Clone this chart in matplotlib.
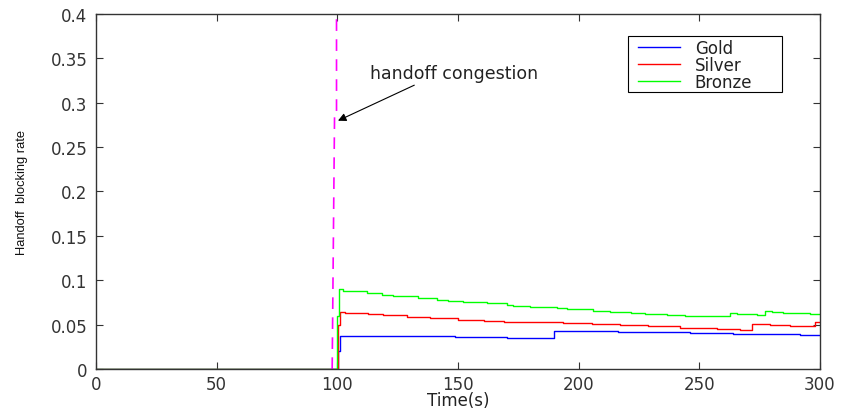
import matplotlib
matplotlib.use('Agg')
import matplotlib.pyplot as plt
from matplotlib.patches import Rectangle

plt.rcParams['font.family'] = ['DejaVu Sans']

# ---------------- data ----------------
gold_t = [0, 100.4, 101.2, 118.4, 148.8, 170.2, 189.6, 216.4, 246.1, 264.1, 291.7, 300]
gold_v = [0, 0.020, 0.0376, 0.0368, 0.0357, 0.0346, 0.0432, 0.0421, 0.0406, 0.0394,
          0.0383, 0.0383]

silver_t = [0, 100.2, 101.0, 103.2, 112.9, 119.1, 128.8, 138.5, 150.2, 160.6, 168.9,
            173.7, 193.7, 205.4, 217.1, 228.9, 242, 257.2, 266.9, 271.7, 279.3, 287.6,
            298, 300]
silver_v = [0, 0.050, 0.0639, 0.0631, 0.0620, 0.0608, 0.0582, 0.0571, 0.0556, 0.0545,
            0.0533, 0.0526, 0.0517, 0.0507, 0.0496, 0.0481, 0.0466, 0.0454, 0.0439,
            0.0507, 0.0496, 0.0481, 0.0526, 0.0526]

bronze_t = [0, 100.0, 100.9, 102.5, 112.2, 118.4, 123.2, 133.6, 141.2, 146, 152.2,
            161.9, 170.2, 172.9, 179.8, 190.9, 195, 206.1, 213, 221.9, 227.5, 236.5,
            244, 255.8, 262.7, 265.5, 273.8, 277.2, 280, 284.8, 295.9, 300]
bronze_v = [0, 0.060, 0.0901, 0.0883, 0.0853, 0.0838, 0.0826, 0.0800, 0.0781, 0.0766,
            0.0759, 0.0740, 0.0721, 0.0706, 0.0695, 0.0687, 0.0680, 0.0657, 0.0646,
            0.0631, 0.0625, 0.0612, 0.0601, 0.0593, 0.0631, 0.0620, 0.0608, 0.0650,
            0.0638, 0.0631, 0.0620, 0.0620]

congestion_t = [97.9, 98.9, 99.7, 99.7]
congestion_v = [0.0, 0.29, 0.29, 0.4]

# ---------------- figure ----------------
fig = plt.figure(figsize=(8.41, 4.10), dpi=100)
ax = fig.add_axes([0.114, 0.0976, 0.861, 0.866])

ax.plot(gold_t, gold_v, color='blue', linewidth=1, drawstyle='steps-post', label='Gold')
ax.plot(silver_t, silver_v, color='red', linewidth=1, drawstyle='steps-post', label='Silver')
ax.plot(bronze_t, bronze_v, color='#00ff00', linewidth=1, drawstyle='steps-post', label='Bronze')
ax.plot(congestion_t, congestion_v, color='magenta', linewidth=1.2, linestyle=(0, (7, 5)))

ax.annotate('handoff congestion', xy=(100.3, 0.2797), xytext=(113.5, 0.333),
            fontsize=12.5, va='center', ha='left', color='#222222',
            arrowprops=dict(arrowstyle='-|>', color='black', lw=0.8,
                            mutation_scale=12, shrinkA=0, shrinkB=0,
                            relpos=(0.3, 0.0)))

ax.set_xlim(0, 300)
ax.set_ylim(0, 0.4)
ax.set_xticks([0, 50, 100, 150, 200, 250, 300])
ax.set_yticks([0, 0.05, 0.1, 0.15, 0.2, 0.25, 0.3, 0.35, 0.4])
ax.set_yticklabels(['0', '0.05', '0.1', '0.15', '0.2', '0.25', '0.3', '0.35', '0.4'])
ax.tick_params(direction='in', length=5, top=True, right=True, labelsize=12,
               colors='#333333', labelcolor='#333333')
ax.tick_params(axis='x', pad=4)
ax.tick_params(axis='y', pad=6)
for sp in ax.spines.values():
    sp.set_color('#333333')
    sp.set_linewidth(1)

ax.set_xlabel('Time(s)', fontsize=12, labelpad=-1, color='#222222')
ax.set_ylabel('Handoff  blocking rate', fontsize=9.3, labelpad=16,
              family='Liberation Sans', color='#111111')

# legend without its own frame, box drawn to the size seen in the picture
leg = ax.legend(loc='upper left', bbox_to_anchor=(0.735, 0.958), fontsize=12,
                frameon=False, handlelength=2.5, handletextpad=0.9,
                borderpad=0.6, labelspacing=-0.05, borderaxespad=0)
for txt in leg.get_texts():
    txt.set_color('#222222')
ax.add_patch(Rectangle((0.735, 0.780), 0.2125, 0.158, transform=ax.transAxes,
                       fill=False, edgecolor='black', linewidth=0.8, zorder=5))

plt.savefig('out.png', dpi=100)
